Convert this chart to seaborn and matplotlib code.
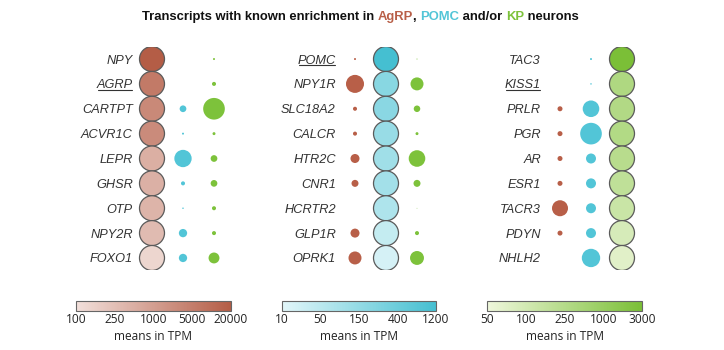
import numpy as np
import pandas as pd
import matplotlib
matplotlib.use("Agg")
import matplotlib.pyplot as plt
import matplotlib.colors as mcolors
from matplotlib.lines import Line2D
import seaborn as sns

# ---------------- data ----------------
groups = ["AgRP", "POMC", "KP"]
group_colors = {"AgRP": "#b85f48", "POMC": "#52c5d7", "KP": "#7dc23b"}

# panel 1: AgRP-enriched transcripts
genes_agrp = ["NPY", "AGRP", "CARTPT", "ACVR1C", "LEPR", "GHSR", "OTP", "NPY2R", "FOXO1"]
tpm_agrp = [20000, 5900, 2900, 2600, 510, 470, 400, 300, 135]
rel_agrp_in_pomc = [0, 0, 0.072, 0.0064, 0.48, 0.026, 0.0036, 0.11, 0.11]
rel_agrp_in_kp = [0.0064, 0.026, 0.75, 0.014, 0.072, 0.072, 0.026, 0.026, 0.19]

# panel 2: POMC-enriched transcripts
genes_pomc = ["POMC", "NPY1R", "SLC18A2", "CALCR", "HTR2C", "CNR1", "HCRTR2", "GLP1R", "OPRK1"]
tpm_pomc = [1200, 200, 190, 132, 105, 97, 71, 34, 17]
rel_pomc_in_agrp = [0.0064, 0.52, 0.026, 0.026, 0.13, 0.078, 0, 0.13, 0.27]
rel_pomc_in_kp = [0.0016, 0.27, 0.068, 0.014, 0.44, 0.078, 0.0008, 0.026, 0.31]

# panel 3: KP-enriched transcripts
genes_kp = ["TAC3", "KISS1", "PRLR", "PGR", "AR", "ESR1", "TACR3", "PDYN", "NHLH2"]
tpm_kp = [3000, 330, 295, 285, 232, 180, 134, 90, 70]
rel_kp_in_agrp = [0, 0, 0.04, 0.04, 0.04, 0.04, 0.41, 0.04, 0]
rel_kp_in_pomc = [0.0064, 0.0036, 0.44, 0.75, 0.16, 0.16, 0.16, 0.16, 0.54]

cbar_ticks_agrp = [100, 250, 1000, 5000, 20000]
cbar_ticks_pomc = [10, 50, 150, 400, 1200]
cbar_ticks_kp = [50, 100, 250, 1000, 3000]

underlined = ["AGRP", "POMC", "KISS1"]

# ---------------- styling ----------------
sns.set_theme(style="white")
plt.rcParams["font.family"] = ["Liberation Sans", "DejaVu Sans"]

W, H = 724, 350
fig = plt.figure(figsize=(W / 100, H / 100), dpi=100)

S_BIG = (25 * 0.72) ** 2

panels = [
    dict(main="AgRP", genes=genes_agrp, tpm=tpm_agrp,
         others={"POMC": rel_agrp_in_pomc, "KP": rel_agrp_in_kp},
         ticks=cbar_ticks_agrp, cmap=["#f2e0db", "#b45d46"],
         ax_left=136.5, cb=(76, 231)),
    dict(main="POMC", genes=genes_pomc, tpm=tpm_pomc,
         others={"AgRP": rel_pomc_in_agrp, "KP": rel_pomc_in_kp},
         ticks=cbar_ticks_pomc, cmap=["#e2f6f9", "#45bfd1"],
         ax_left=339.5, cb=(282, 436)),
    dict(main="KP", genes=genes_kp, tpm=tpm_kp,
         others={"AgRP": rel_kp_in_agrp, "POMC": rel_kp_in_pomc},
         ticks=cbar_ticks_kp, cmap=["#eff7dc", "#7bbf37"],
         ax_left=544.5, cb=(487, 642)),
]

ax_top, ax_bot = 46.6, 270.4
cb_top, cb_bot = 301, 311

tick_label_objs = []

for p in panels:
    ax = fig.add_axes([p["ax_left"] / W, 1 - ax_bot / H, 93 / W, (ax_bot - ax_top) / H])
    genes = p["genes"]
    logt = np.log(np.array(p["ticks"], dtype=float))
    pos = np.linspace(0, 1, len(logt))

    def fwd(v, logt=logt, pos=pos):
        v = np.asarray(v, dtype=float)
        return np.interp(np.log(np.clip(v, 1e-9, None)), logt, pos)

    def inv(u, logt=logt, pos=pos):
        u = np.asarray(u, dtype=float)
        return np.exp(np.interp(u, pos, logt))

    norm = mcolors.FuncNorm((fwd, inv), vmin=p["ticks"][0], vmax=p["ticks"][-1])
    cmap = mcolors.LinearSegmentedColormap.from_list("c", p["cmap"])

    main_df = pd.DataFrame({
        "gene": genes,
        "x": groups.index(p["main"]),
        "y": np.arange(len(genes)),
        "tpm": p["tpm"],
    })
    rows = []
    for g, vals in p["others"].items():
        for i, (gene, v) in enumerate(zip(genes, vals)):
            if v > 0:
                rows.append(dict(gene=gene, group=g, x=groups.index(g), y=i, rel=v))
    small_df = pd.DataFrame(rows)

    sns.scatterplot(data=small_df, x="x", y="y", hue="group", palette=group_colors,
                    size="rel", sizes=(0, S_BIG), size_norm=(0, 1),
                    linewidth=0, legend=False, ax=ax, zorder=2)
    sns.scatterplot(data=main_df, x="x", y="y", hue="tpm", palette=cmap, hue_norm=norm,
                    s=S_BIG, edgecolor="#5a5a5a", linewidth=0.9, legend=False, ax=ax, zorder=3)

    ax.set_xlim(-0.5, 2.5)
    ax.set_ylim(len(genes) - 0.5, -0.5)
    ax.set_xticks([])
    ax.set_yticks(np.arange(len(genes)))
    ax.set_yticklabels(genes, fontsize=9.2, fontstyle="italic", color="#333333")
    ax.tick_params(axis="y", length=0, pad=2.6)
    ax.set_xlabel("")
    ax.set_ylabel("")
    for s in ax.spines.values():
        s.set_visible(False)
    ax.set_facecolor("none")
    for lab in ax.get_yticklabels():
        if lab.get_text() in underlined:
            tick_label_objs.append(lab)

    # colorbar
    cax = fig.add_axes([p["cb"][0] / W, 1 - cb_bot / H, (p["cb"][1] - p["cb"][0]) / W,
                        (cb_bot - cb_top) / H])
    sm = matplotlib.cm.ScalarMappable(norm=norm, cmap=cmap)
    cb = fig.colorbar(sm, cax=cax, orientation="horizontal")
    cb.set_ticks(p["ticks"])
    cb.set_ticklabels([str(t) for t in p["ticks"]])
    cb.ax.minorticks_off()
    cb.ax.tick_params(length=0, pad=1.5, labelsize=8.6, labelcolor="#222222")
    for t in cb.ax.get_xticklabels():
        t.set_fontfamily(["Open Sans", "DejaVu Sans"])
    cb.outline.set_edgecolor("#666666")
    cb.outline.set_linewidth(0.8)
    cb.set_label("means in TPM", fontsize=8.6, labelpad=3, color="#222222",
                 fontfamily=["Open Sans", "DejaVu Sans"])

# ---------------- title (multi-coloured) ----------------
pieces = [("Transcripts with known enrichment in ", "#111111"),
          ("AgRP", group_colors["AgRP"]), (", ", "#111111"),
          ("POMC", group_colors["POMC"]), (" and/or ", "#111111"),
          ("KP", group_colors["KP"]), (" neurons", "#111111")]
fig.canvas.draw()
renderer = fig.canvas.get_renderer()

target_w = 438
fs = 10
tmp = fig.text(0, 0, "".join(t for t, _ in pieces), fontsize=fs, fontweight="bold")
w0 = tmp.get_window_extent(renderer).width
tmp.remove()
fs = fs * target_w / w0

x = (142 + 580) / 2 - target_w / 2
y_title = 1 - 17 / H
for txt, col in pieces:
    t = fig.text(x / W, y_title, txt, fontsize=fs, fontweight="bold", color=col,
                 va="center", ha="left")
    x += t.get_window_extent(renderer).width

# underline selected gene labels
fig.canvas.draw()
for lab in tick_label_objs:
    bb = lab.get_window_extent(renderer)
    yline = bb.y0 + 1.5
    fig.add_artist(Line2D([bb.x0 / W + 0.002, bb.x1 / W - 0.001], [yline / H, yline / H],
                          transform=fig.transFigure, color="#333333", linewidth=0.8))

fig.savefig("out.png", dpi=100)
